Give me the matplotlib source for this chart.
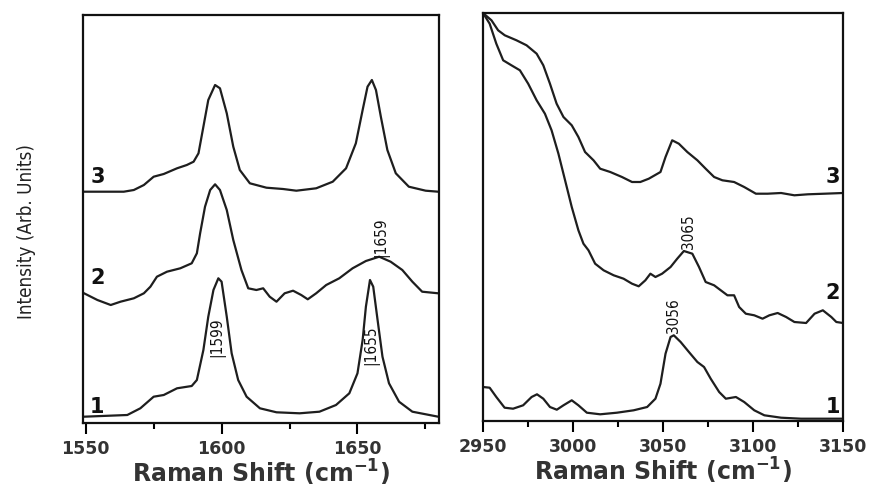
import matplotlib
matplotlib.use("Agg")
import matplotlib.pyplot as plt
from matplotlib.ticker import MultipleLocator

# ---------------- data: left panel (1550-1680 cm^-1) ----------------
left_w1 = [1549.4, 1565.3, 1570.1, 1575.0, 1578.7, 1583.6, 1589.0, 1590.9, 1593.3, 1595.1,
           1597.0, 1598.8, 1600.0, 1601.9, 1603.7, 1606.1, 1609.2, 1614.1, 1620.2, 1628.7,
           1636.0, 1642.1, 1647.0, 1650.0, 1651.9, 1653.1, 1654.6, 1655.8, 1657.4, 1659.2,
           1661.6, 1665.3, 1670.2, 1679.7]
left_i1 = [6.3, 8.0, 14.7, 26.3, 28.0, 34.7, 37.0, 43.0, 73.0, 106.3,
           133.0, 144.7, 141.3, 106.3, 69.7, 43.0, 26.3, 14.7, 10.7, 9.7,
           11.3, 18.0, 29.7, 49.7, 83.0, 116.3, 143.0, 136.3, 103.0, 66.3,
           39.7, 21.3, 11.3, 6.3]

left_w2 = [1549.4, 1554.3, 1559.2, 1562.8, 1567.7, 1571.4, 1573.8, 1576.2, 1579.9, 1584.8,
           1589.0, 1590.9, 1592.1, 1593.9, 1595.8, 1597.6, 1599.4, 1601.9, 1604.3, 1607.3,
           1609.8, 1612.8, 1615.3, 1617.7, 1620.2, 1623.2, 1626.3, 1629.3, 1631.7, 1634.8,
           1638.5, 1643.3, 1648.2, 1653.1, 1658.0, 1662.2, 1666.5, 1670.2, 1673.8, 1679.7]
left_i2 = [129.7, 123.0, 118.0, 121.3, 124.7, 129.7, 136.3, 146.3, 151.3, 154.7,
           159.7, 169.7, 189.7, 216.3, 233.0, 238.7, 233.0, 213.0, 183.0, 153.0,
           134.7, 133.0, 134.7, 126.3, 121.3, 129.7, 132.3, 128.0, 123.7, 129.7,
           138.0, 144.7, 154.7, 162.0, 166.3, 161.3, 153.0, 141.3, 131.3, 129.7]

left_w3 = [1549.4, 1555.5, 1564.0, 1567.7, 1571.4, 1575.0, 1578.7, 1583.6, 1587.2, 1589.7,
           1591.5, 1593.3, 1595.1, 1597.6, 1599.4, 1601.9, 1604.3, 1606.7, 1610.4, 1616.5,
           1622.6, 1627.5, 1634.8, 1640.9, 1645.8, 1649.4, 1651.9, 1653.7, 1655.3, 1656.8,
           1658.6, 1661.0, 1664.1, 1668.9, 1675.1, 1679.7]
left_i3 = [231.3, 231.3, 231.3, 233.0, 238.0, 246.3, 249.0, 254.7, 258.0, 261.3,
           269.7, 296.3, 323.0, 338.0, 334.7, 309.7, 276.3, 253.0, 239.7, 235.3,
           234.0, 232.3, 234.7, 241.3, 254.7, 279.7, 313.0, 336.3, 343.0, 333.0,
           306.3, 273.0, 249.7, 236.3, 232.3, 231.3]

# ---------------- data: right panel (2950-3150 cm^-1) ----------------
right_w1 = [2950.0, 2953.7, 2957.4, 2962.0, 2966.7, 2972.3, 2977.0, 2980.0, 2983.5, 2987.2,
            2991.0, 2994.7, 2999.3, 3003.0, 3007.7, 3015.1, 3024.4, 3033.7, 3041.2, 3045.8,
            3048.6, 3051.4, 3054.2, 3056.0, 3059.8, 3064.4, 3069.1, 3072.8, 3076.5, 3081.2,
            3084.9, 3090.5, 3095.1, 3100.7, 3106.3, 3115.6, 3126.7, 3139.8, 3150.0]
right_i1 = [34.0, 33.3, 24.0, 13.3, 12.3, 15.7, 24.0, 26.7, 22.3, 14.0,
            11.3, 15.7, 20.7, 15.7, 8.3, 6.7, 8.3, 10.7, 14.0, 22.3,
            37.3, 67.3, 84.0, 85.7, 79.0, 69.0, 59.0, 54.0, 42.3, 29.0,
            22.3, 24.0, 19.0, 10.7, 5.7, 3.3, 2.3, 2.3, 2.3]

right_w2 = [2950.0, 2953.7, 2957.4, 2961.2, 2965.8, 2970.5, 2975.1, 2979.8, 2984.4, 2988.1,
            2991.9, 2995.6, 2999.3, 3003.0, 3005.8, 3008.6, 3012.3, 3017.0, 3022.6, 3028.1,
            3032.8, 3036.5, 3040.2, 3043.0, 3045.8, 3049.5, 3054.2, 3057.9, 3061.6, 3066.3,
            3070.0, 3073.7, 3078.4, 3082.1, 3085.8, 3089.5, 3092.3, 3096.0, 3100.7, 3105.3,
            3109.1, 3113.7, 3118.4, 3123.0, 3129.5, 3134.2, 3138.8, 3143.5, 3146.3, 3150.0]
right_i2 = [408.0, 397.3, 377.3, 360.7, 355.7, 350.7, 337.3, 320.7, 307.3, 290.7,
            267.3, 240.7, 214.0, 190.7, 177.3, 170.7, 157.3, 150.7, 145.7, 142.3,
            137.3, 134.7, 140.7, 147.3, 144.0, 147.3, 154.0, 162.3, 170.0, 167.3,
            154.0, 139.0, 135.7, 130.7, 125.7, 125.7, 114.0, 107.3, 105.7, 102.3,
            105.7, 108.0, 104.0, 99.0, 98.0, 107.3, 110.7, 104.0, 99.0, 98.0]

right_w3 = [2950.0, 2954.7, 2958.4, 2962.1, 2968.6, 2974.2, 2979.8, 2983.5, 2987.2, 2990.9,
            2994.7, 2999.3, 3003.0, 3006.7, 3011.4, 3015.1, 3020.7, 3027.2, 3032.8, 3037.4,
            3042.1, 3048.6, 3051.4, 3055.1, 3058.8, 3063.5, 3069.1, 3073.7, 3078.4, 3083.0,
            3089.5, 3095.1, 3101.6, 3108.1, 3115.6, 3123.0, 3130.5, 3139.8, 3150.0]
right_i3 = [408.0, 400.7, 390.7, 385.7, 380.7, 375.7, 367.3, 355.7, 337.3, 317.3,
            304.0, 295.7, 284.0, 269.0, 260.7, 252.3, 249.0, 244.0, 239.0, 239.0,
            242.3, 249.0, 264.0, 280.7, 277.3, 269.0, 260.7, 252.3, 244.0, 240.7,
            239.0, 234.0, 227.3, 227.3, 228.0, 225.7, 226.7, 227.3, 228.0]

# curve numbers and peak labels
curve_names = ["1", "2", "3"]
left_peak_labels = ["|1599", "|1655", "|1659"]
left_peak_pos = [(1598.4, 66), (1655.1, 58), (1658.8, 166)]
right_peak_labels = ["3056", "3065"]
right_peak_pos = [(3056.0, 88), (3064.4, 172)]

left_xticks = [1550, 1600, 1650]
right_xticks = [2950, 3000, 3050, 3100, 3150]
xlabel_text = "Raman Shift (cm$^{\\mathregular{-1}}$)"
ylabel_text = "Intensity (Arb. Units)"

# ---------------- figure ----------------
fig = plt.figure(figsize=(8.74, 4.91), dpi=100)
axL = fig.add_axes([83 / 874, (491 - 423) / 491, (439 - 83) / 874, 408 / 491])
axR = fig.add_axes([483 / 874, (491 - 421) / 491, (843 - 483) / 874, 408 / 491])

line_kw = dict(color="#1e1e1e", lw=1.6, solid_joinstyle="round")
for w, i in [(left_w1, left_i1), (left_w2, left_i2), (left_w3, left_i3)]:
    axL.plot(w, i, **line_kw)
for w, i in [(right_w1, right_i1), (right_w2, right_i2), (right_w3, right_i3)]:
    axR.plot(w, i, **line_kw)

axL.set_xlim(1549, 1680)
axR.set_xlim(2950, 3150)
axL.set_xticks(left_xticks)
axR.set_xticks(right_xticks)
for ax in (axL, axR):
    ax.set_ylim(0, 408)
    ax.set_yticks([])
    for s in ax.spines.values():
        s.set_linewidth(1.6)
        s.set_color("#111111")
    ax.tick_params(axis="x", which="major", direction="out", length=8, width=1.5,
                   pad=4, labelsize=12.5, labelcolor="#333333")
    ax.tick_params(axis="x", which="minor", direction="out", length=4.5, width=1.5)
    ax.xaxis.set_minor_locator(MultipleLocator(25))
    for lab in ax.get_xticklabels():
        lab.set_fontweight("bold")
    ax.set_xlabel(xlabel_text, fontsize=17, fontweight="bold", color="#333333",
                  labelpad=0)

narrow = ["DejaVu Sans"]
fig.text(27 / 874, 1 - 232 / 491, ylabel_text, rotation=90, ha="center", va="center",
         family=narrow, fontstretch="condensed", fontsize=13.5, color="#222222")

# curve numbers
num_kw = dict(fontsize=15, fontweight="bold", color="#111111")
for name, y in zip(curve_names, [6, 135, 236]):
    axL.text(1551.6, y, name, ha="left", va="bottom", **num_kw)
for name, y in zip(curve_names, [4, 118, 234]):
    axR.text(3148.5, y, name, ha="right", va="bottom", **num_kw)

# peak labels
pk_kw = dict(rotation=90, ha="center", va="bottom", family=narrow,
             fontstretch="condensed", fontsize=11, color="#111111")
for lab, (x, y) in zip(left_peak_labels, left_peak_pos):
    axL.text(x, y, lab, **pk_kw)
for lab, (x, y) in zip(right_peak_labels, right_peak_pos):
    axR.text(x, y, lab, **pk_kw)

fig.savefig("out.png", dpi=100)
